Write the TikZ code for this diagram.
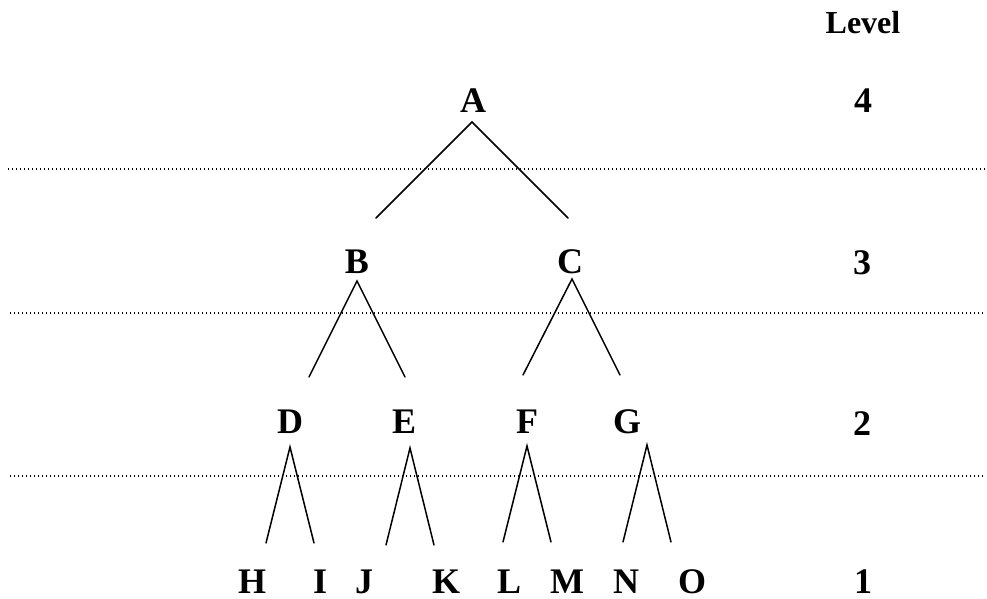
\documentclass[tikz,border=0pt]{standalone}
\usepackage{fontspec}
\setmainfont{Liberation Serif}
\begin{document}
\begin{tikzpicture}[x=1pt,y=-1pt,
  lbl/.style={inner sep=0pt,anchor=base,font=\fontsize{36}{40}\selectfont\bfseries},
  lvl/.style={inner sep=0pt,anchor=base,font=\fontsize{32}{36}\selectfont\bfseries},
  branch/.style={line width=1.5pt,line cap=round},
  sep/.style={line width=1.1pt,dash pattern=on 1.2pt off 2.8pt}]
\useasboundingbox (0,0) rectangle (987,599);
% letters
\node[lbl] (A) at (473,113) {A};
\node[lbl] (B) at (357,273) {B};
\node[lbl] (C) at (570,273) {C};
\node[lbl] (D) at (290,433) {D};
\node[lbl] (E) at (404,433) {E};
\node[lbl] (F) at (527,433) {F};
\node[lbl] (G) at (627,433) {G};
\node[lbl] (H) at (252,593) {H};
\node[lbl] (I) at (320,593) {I};
\node[lbl] (J) at (364,593) {J};
\node[lbl] (K) at (446,593) {K};
\node[lbl] (L) at (509,593) {L};
\node[lbl] (M) at (567,593) {M};
\node[lbl] (N) at (626,593) {N};
\node[lbl] (O) at (692,593) {O};
% levels
\node[lvl] (lev) at (863,34) {Level};
\node[lbl] (l4) at (863,113) {4};
\node[lbl] (l3) at (862,274) {3};
\node[lbl] (l2) at (862,435) {2};
\node[lbl] (l1) at (863,593) {1};
% dotted separators
\coordinate (s1a) at (8,169);  \coordinate (s1b) at (985,169);
\coordinate (s2a) at (10,313); \coordinate (s2b) at (985,313);
\coordinate (s3a) at (10,476); \coordinate (s3b) at (985,476);
\draw[sep] (s1a) -- (s1b);
\draw[sep] (s2a) -- (s2b);
\draw[sep] (s3a) -- (s3b);
% branch points
\coordinate (Aap) at (472,122); \coordinate (Al) at (376,218); \coordinate (Ar) at (568,218);
\coordinate (Bap) at (357,281); \coordinate (Bl) at (309,377); \coordinate (Br) at (405,377);
\coordinate (Cap) at (572,279); \coordinate (Cl) at (523,375); \coordinate (Cr) at (620,375);
\coordinate (Dap) at (290,447); \coordinate (Dl) at (266,543); \coordinate (Dr) at (314,543);
\coordinate (Eap) at (410,448); \coordinate (El) at (386,545); \coordinate (Er) at (434,545);
\coordinate (Fap) at (527,446); \coordinate (Fl) at (503,542); \coordinate (Fr) at (551,542);
\coordinate (Gap) at (647,445); \coordinate (Gl) at (623,542); \coordinate (Gr) at (671,542);
\foreach \p in {A,B,C,D,E,F,G}{
  \draw[branch] (\p l) -- (\p ap) -- (\p r);
}
\end{tikzpicture}
\end{document}
